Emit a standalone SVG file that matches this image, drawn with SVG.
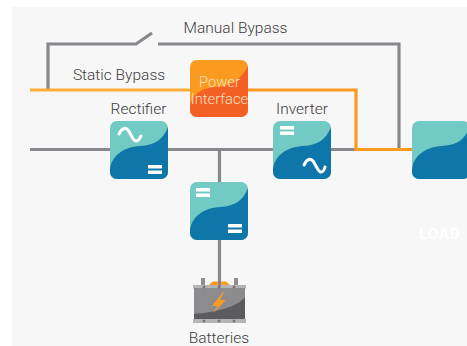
<svg xmlns="http://www.w3.org/2000/svg" width="467" height="346" viewBox="0 0 467 346">
<style>
.t{font-family:Roboto,"Liberation Sans",sans-serif;font-size:15.500px;font-weight:300;fill:#3c3c3c;}
.g{fill:none;stroke:#88888c;stroke-width:3.200;}
.o{fill:none;stroke:#fa9a1e;stroke-width:3.200;}
.s{fill:none;stroke:#fdac38;stroke-width:3.200;}
.lt{fill:#72cac4;}
.dk{fill:#0f76aa;}
.w{fill:none;stroke:#fff;stroke-width:3;stroke-linecap:round;}
.b{fill:#fff;}
</style>
<defs>
<clipPath id="c"><rect width="58" height="58" rx="7"/></clipPath>
<g id="box">
<g clip-path="url(#c)"><rect class="lt" width="58" height="58"/>
<path class="dk" d="M0 48C2 34 14 26 30 25C46 24 53 18 58 6V58H0Z"/></g>
</g>
</defs>
<rect x="12" y="7" width="455" height="339" fill="#f7f7f7"/>
<g id="connectors">
<path class="g" d="M48 89V44H136L152 33M158 44H399V149"/>
<path class="s" d="M30 90H190"/>
<path class="g" d="M30 149.500H412"/>
<path class="g" d="M219.500 149.500V182M219.500 239V288"/>
<path class="o" d="M248 90H356V149.500H412"/>
</g>
<g id="power-interface">
<g transform="translate(190 60)"><clipPath id="cp"><rect width="58" height="57" rx="7"/></clipPath>
<g clip-path="url(#cp)"><rect width="58" height="57" fill="#fa9a1e"/><path d="M0 46C2 34 13 27 28 27C44 26 52 17 58 6V57H0Z" fill="#f45f24"/></g></g>
<text x="219.500" y="87" text-anchor="middle" class="t" style="fill:#fde0c0;font-size:14.700px">Power</text>
<text x="219.500" y="104" text-anchor="middle" class="t" style="fill:#fde0c0;font-size:14.700px">Interface</text>
</g>
<g id="rectifier">
<use href="#box" x="110" y="121"/>
<path class="w" d="M119 134C122 128 125 127 128 130C131 134 133 141 136 141C138 141 139 140 141 136"/>
<rect class="b" x="148" y="165" width="14" height="3.500"/><rect class="b" x="148" y="170.500" width="14" height="3.500"/>
<text x="138.500" y="114" text-anchor="middle" class="t">Rectifier</text>
</g>
<g id="inverter">
<use href="#box" x="273" y="121"/>
<rect class="b" x="280" y="126" width="14" height="3.500"/><rect class="b" x="280" y="131.500" width="14" height="3.500"/>
<path class="w" d="M304 165C307 159 310 158 313 161C316 165 318 172 321 172C323 172 324 171 325 167"/>
<text x="302" y="114" text-anchor="middle" class="t">Inverter</text>
</g>
<g id="load">
<use href="#box" x="412" y="121"/>
<text x="440" y="239" text-anchor="middle" style="font-family:Roboto,'Liberation Sans',sans-serif;font-size:15px;font-weight:700;fill:#fff;letter-spacing:1px">LOAD</text>
</g>
<g id="dc-converter">
<use href="#box" x="190" y="182"/>
<rect class="b" x="196" y="188" width="14" height="3.500"/><rect class="b" x="196" y="193.500" width="14" height="3.500"/>
<rect class="b" x="228" y="224" width="14" height="3.500"/><rect class="b" x="228" y="229.500" width="14" height="3.500"/>
</g>
<g id="batteries">
<rect x="201" y="278" width="4" height="8" fill="#8f8f92"/><rect x="234" y="278" width="4" height="8" fill="#8f8f92"/>
<path d="M209 285L213 281.500H226L230 285Z" fill="#fa9a1e"/>
<rect x="193" y="285" width="53" height="3.500" fill="#b5b5b7"/>
<rect x="218" y="278" width="3" height="9" fill="#88888c"/>
<rect x="194" y="288" width="51" height="31" fill="#8c8c8e"/>
<path d="M194 314C215 312 236 308 245 297V319H194Z" fill="#5c5c5e"/>
<rect x="193" y="319" width="53" height="4" fill="#b5b5b7"/>
<circle cx="204" cy="287" r="1.500" fill="#77777a"/><circle cx="219" cy="287" r="1.500" fill="#77777a"/><circle cx="234" cy="287" r="1.500" fill="#77777a"/>
<circle cx="204" cy="321" r="1.500" fill="#77777a"/><circle cx="219" cy="321" r="1.500" fill="#77777a"/><circle cx="234" cy="321" r="1.500" fill="#77777a"/>
<path d="M223 292L212 306H217.500L213 313L226 300H220L224 292Z" fill="#fa9a1e"/>
<text x="219" y="343" text-anchor="middle" class="t">Batteries</text>
</g>
<text x="235.500" y="33" text-anchor="middle" class="t">Manual Bypass</text>
<text x="119" y="80" text-anchor="middle" class="t">Static Bypass</text>
</svg>
